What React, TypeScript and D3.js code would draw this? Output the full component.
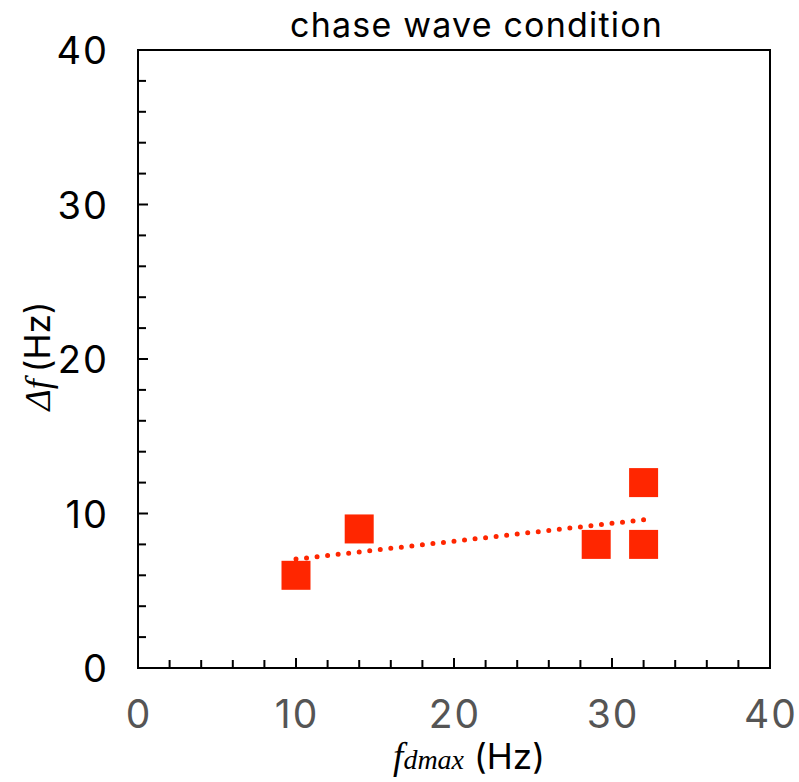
import React, { useEffect, useRef } from 'react';
import * as d3 from 'd3';

// measured points (fdmax in Hz, delta f in Hz)
const fdmax = [10, 14, 29, 32, 32];
const deltaF = [6, 9, 8, 12, 8];
const xTicks = [0, 10, 20, 30, 40];
const yTicks = [0, 10, 20, 30, 40];
const titleText = 'chase wave condition';

const W = 799;
const H = 782;
const RED = '#ff2600';
const FONT = 'Inter, "DejaVu Sans", sans-serif';
const SERIF = '"Liberation Serif", "DejaVu Serif", serif';

const App = () => {
  const svgRef = useRef<SVGSVGElement | null>(null);

  useEffect(() => {
    if (!svgRef.current) return;
    const svg = d3.select(svgRef.current);
    svg.selectAll('*').remove();

    const margin = { top: 50, right: 29, bottom: 114, left: 138 };
    const x = d3.scaleLinear().domain([0, 40]).range([margin.left, W - margin.right]);
    const y = d3.scaleLinear().domain([0, 40]).range([H - margin.bottom, margin.top]);

    // frame
    svg.append('rect')
      .attr('x', x(0)).attr('y', y(40))
      .attr('width', x(40) - x(0)).attr('height', y(0) - y(40))
      .attr('fill', 'none').attr('stroke', '#000').attr('stroke-width', 2);

    // inward ticks every 2 units
    d3.range(2, 40, 2).forEach(v => {
      const len = v % 10 === 0 ? 10 : 8;
      svg.append('line')
        .attr('x1', x(v)).attr('x2', x(v))
        .attr('y1', y(0)).attr('y2', y(0) - len)
        .attr('stroke', '#000').attr('stroke-width', 2);
      svg.append('line')
        .attr('x1', x(0)).attr('x2', x(0) + len)
        .attr('y1', y(v)).attr('y2', y(v))
        .attr('stroke', '#000').attr('stroke-width', 2);
    });

    // tick labels
    const xls = 2;
    svg.append('g').selectAll('text').data(xTicks).enter().append('text')
      .attr('x', d => x(d) + xls / 2).attr('y', y(0) + 60)
      .attr('text-anchor', 'middle')
      .attr('fill', '#555')
      .style('letter-spacing', `${xls}px`)
      .style('font-family', FONT).style('font-size', '39px')
      .text(d => d);

    const yls = 2;
    svg.append('g').selectAll('text').data(yTicks).enter().append('text')
      .attr('x', x(0) - 31 + yls).attr('y', d => y(d) + 14)
      .attr('text-anchor', 'end')
      .attr('fill', '#000')
      .style('letter-spacing', `${yls}px`)
      .style('font-family', FONT).style('font-size', '38px')
      .text(d => d);

    // title
    const tls = 1.2;
    svg.append('text')
      .attr('x', 476 + tls / 2).attr('y', 37)
      .attr('text-anchor', 'middle')
      .style('letter-spacing', `${tls}px`)
      .style('font-family', FONT).style('font-size', '34px')
      .text(titleText);

    // x label
    const xl = svg.append('text')
      .attr('x', 469).attr('y', 769)
      .attr('text-anchor', 'middle')
      .style('font-size', '35px');
    xl.append('tspan')
      .style('font-family', SERIF).style('font-style', 'italic')
      .style('font-size', '37px').text('f');
    xl.append('tspan')
      .style('font-family', SERIF).style('font-style', 'italic')
      .style('font-size', '28px').text('dmax');
    xl.append('tspan')
      .style('font-family', FONT).attr('dx', 10).text('(Hz)');

    // y label
    const yl = svg.append('text')
      .attr('transform', `translate(50,${356}) rotate(-90)`)
      .attr('text-anchor', 'middle')
      .style('font-size', '35px');
    yl.append('tspan')
      .style('font-family', SERIF).style('font-style', 'italic')
      .style('font-size', '36px').text('Δf');
    yl.append('tspan')
      .style('font-family', FONT).attr('dx', 7).text('(Hz)');

    // least-squares trend line over data range
    const pts = fdmax.map((f, i) => [f, deltaF[i]] as [number, number]);
    const mx = d3.mean(fdmax) as number;
    const my = d3.mean(deltaF) as number;
    const sxy = d3.sum(pts, p => (p[0] - mx) * (p[1] - my));
    const sxx = d3.sum(fdmax, f => (f - mx) * (f - mx));
    const slope = sxy / sxx;
    const icpt = my - slope * mx;
    const [x0, x1] = d3.extent(fdmax) as [number, number];
    svg.append('line')
      .attr('x1', x(x0)).attr('y1', y(icpt + slope * x0))
      .attr('x2', x(x1)).attr('y2', y(icpt + slope * x1))
      .attr('stroke', RED).attr('stroke-width', 5)
      .attr('stroke-linecap', 'round')
      .attr('stroke-dasharray', '0 10.6');

    // markers
    const s = 29;
    svg.append('g').selectAll('rect').data(pts).enter().append('rect')
      .attr('x', d => x(d[0]) - s / 2).attr('y', d => y(d[1]) - s / 2)
      .attr('width', s).attr('height', s)
      .attr('fill', RED);
  }, []);

  return (
    <div style={{ position: 'fixed', left: 0, top: 0, width: W, height: H, background: '#fff' }}>
      <svg ref={svgRef} width={W} height={H}></svg>
    </div>
  );
};

export default App;
